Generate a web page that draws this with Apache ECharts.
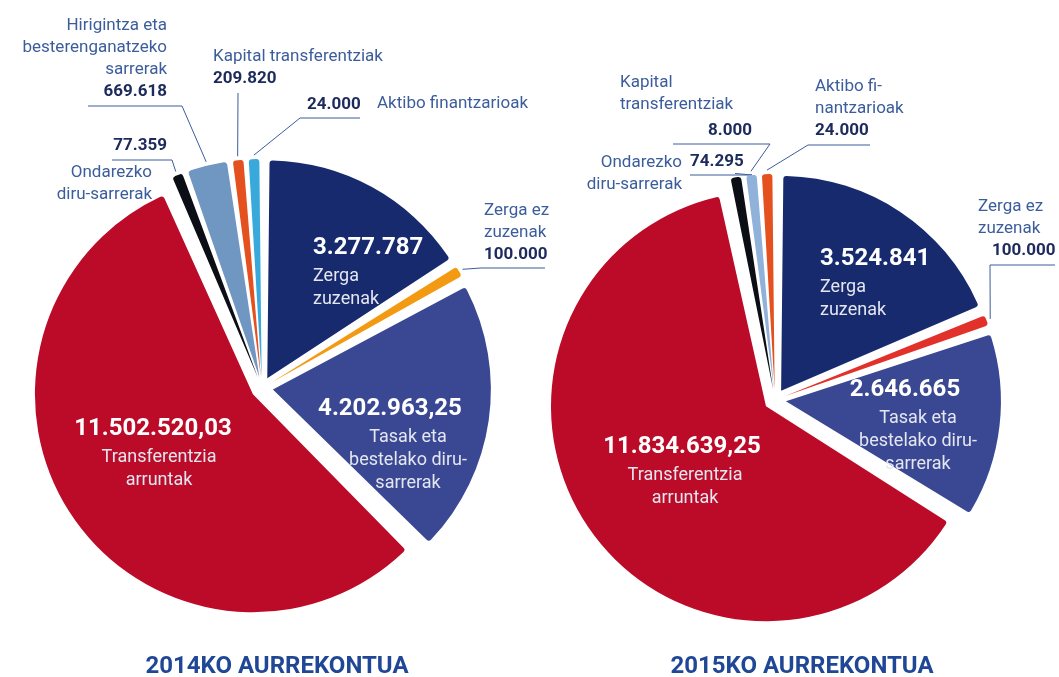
<!DOCTYPE html>
<html>
<head>
<meta charset="utf-8">
<script src="https://cdn.jsdelivr.net/npm/echarts@6/dist/echarts.min.js"></script>
<style>
html, body { margin: 0; padding: 0; background: #fff; }
#charts { width: 1059px; height: 677px; }
</style>
</head>
<body>
<div id="charts"></div>
<script>
// datuak: erlojuaren orratzen norantzan, goitik hasita
const categories2014 = ['Zerga zuzenak', 'Zerga ez zuzenak', 'Tasak eta bestelako diru-sarrerak', 'Transferentzia arruntak', 'Ondarezko diru-sarrerak', 'Hirigintza eta besterenganatzeko sarrerak', 'Kapital transferentziak', 'Aktibo finantzarioak']
const values2014 = [3277787, 100000, 4202963.25, 11502520.03, 77359, 669618, 209820, 24000]
const valueLabels2014 = ['3.277.787', '100.000', '4.202.963,25', '11.502.520,03', '77.359', '669.618', '209.820', '24.000']

const categories2015 = ['Zerga zuzenak', 'Zerga ez zuzenak', 'Tasak eta bestelako diru-sarrerak', 'Transferentzia arruntak', 'Ondarezko diru-sarrerak', 'Kapital transferentziak', 'Aktibo finantzarioak']
const values2015 = [3524841, 100000, 2646665, 11834639.25, 74295, 8000, 24000]
const valueLabels2015 = ['3.524.841', '100.000', '2.646.665', '11.834.639,25', '74.295', '8.000', '24.000']

const titles = ['2014KO AURREKONTUA', '2015KO AURREKONTUA']

// koloreak
const colors2014 = ['#172a6d', '#f39a12', '#3a4894', '#bb0b28', '#0b0e14', '#7096c2', '#e5501f', '#39a9dc']
const colors2015 = ['#172a6d', '#e2312b', '#3a4894', '#bb0b28', '#0b0e14', '#8fb1da', '#e5501f']

const NAME_COLOR = '#3c5d9b'
const VALUE_COLOR = '#1c2a5c'
const FONT = 'Roboto, "DejaVu Sans", sans-serif'

const OFFSET = 11
const pies = [
  { center: [262, 388], radius: 218 },
  { center: [775, 400], radius: 215 }
]

// etiketen kokapena (px); pad = izenen desplazamendua
const spots2014 = [
  { inside: true, x: 313, y: 231, align: 'left', text: ['Zerga', 'zuzenak'] },
  { x: 484, y: 266, align: 'left', text: ['Zerga ez', 'zuzenak'], bend: [481, 268], end: 545 },
  { inside: true, x: 390, y: 392, align: 'center', pad: 36, text: ['Tasak eta', 'bestelako diru-', 'sarrerak'] },
  { inside: true, x: 153, y: 412, align: 'center', pad: 12, text: ['Transferentzia', 'arruntak'] },
  { x: 167, y: 157, align: 'right', text: [], bend: [172, 160], end: 112 },
  { x: 167, y: 103, align: 'right', text: ['Hirigintza eta', 'besterenganatzeko', 'sarrerak'], bend: [182, 106], end: 88 },
  { x: 213, y: 90, align: 'left', text: ['Kapital transferentziak'], bend: [238, 93], end: 238 },
  { x: 307, y: 116, align: 'left', text: [], bend: [300, 118], end: 360 }
]
const spots2015 = [
  { inside: true, x: 820, y: 242, align: 'left', text: ['Zerga', 'zuzenak'] },
  { x: 978, y: 262, align: 'left', valPad: 14, text: ['Zerga ez', 'zuzenak'], bend: [990, 265], end: 1055 },
  { inside: true, x: 905, y: 373, align: 'center', pad: 26, text: ['Tasak eta', 'bestelako diru-', 'sarrerak'] },
  { inside: true, x: 682, y: 430, align: 'center', pad: 6, text: ['Transferentzia', 'arruntak'] },
  { x: 690, y: 173, align: 'left', text: [], bend: [752, 175], end: 690 },
  { x: 752, y: 142, align: 'right', text: [], bend: [770, 144], end: 673 },
  { x: 815, y: 142, align: 'left', text: ['Aktibo fi-', 'nantzarioak'], bend: [808, 145], end: 870 }
]

// etiketa osagarriak
const extraNames = [
  { text: 'Ondarezko\ndiru-sarrerak', x: 152, y: 162, align: 'right' },
  { text: 'Aktibo finantzarioak', x: 377, y: 93, align: 'left' },
  { text: 'Ondarezko\ndiru-sarrerak', x: 682, y: 152, align: 'right' },
  { text: 'Kapital\ntransferentziak', x: 620, y: 72, align: 'left' }
]

function richFor (s) {
  return {
    big: { fontSize: 24, fontWeight: 'bold', color: '#fff', lineHeight: 34, fontFamily: FONT },
    inName: { fontSize: 18, color: '#e4e6f0', lineHeight: 23, fontFamily: FONT, padding: [0, 0, 0, s.pad || 0] },
    val: { fontSize: 17, fontWeight: 'bold', color: VALUE_COLOR, lineHeight: 22, fontFamily: FONT, padding: [0, 0, 0, s.valPad || 0] },
    nm: { fontSize: 17, color: NAME_COLOR, lineHeight: 22, fontFamily: FONT }
  }
}

function pieBase (pie) {
  return {
    type: 'pie',
    center: pie.center,
    radius: pie.radius,
    startAngle: 90,
    clockwise: true,
    padAngle: 1.2,
    minAngle: 2.8,
    avoidLabelOverlap: false,
    animation: false
  }
}

// tartak (zatiak bereizita)
function sliceSeries (categories, values, colors, pie) {
  return Object.assign(pieBase(pie), {
    selectedMode: 'multiple',
    selectedOffset: OFFSET,
    itemStyle: { borderRadius: 3 },
    label: { show: false },
    labelLine: { show: false },
    emphasis: { disabled: true },
    data: categories.map((c, i) => ({ name: c, value: values[i], selected: true, itemStyle: { color: colors[i] } }))
  })
}

// etiketak: tarta garden bat gainean
function labelSeries (categories, values, valueLabels, spots, pie) {
  const center = pie.center
  return Object.assign(pieBase(pie), {
    silent: true,
    itemStyle: { color: 'rgba(0,0,0,0)' },
    emphasis: { disabled: true },
    labelLine: { show: true, lineStyle: { color: NAME_COLOR, width: 1 } },
    label: {
      formatter: (params) => {
        const s = spots[params.dataIndex]
        const lab = valueLabels[params.dataIndex]
        if (s.inside) {
          return ['{big|' + lab + '}'].concat(s.text.map(t => '{inName|' + t + '}')).join('\n')
        }
        return s.text.map(t => '{nm|' + t + '}').concat(['{val|' + lab + '}']).join('\n')
      }
    },
    labelLayout: (params) => {
      const s = spots[params.dataIndex]
      const out = { x: s.x, y: s.y, align: s.align, verticalAlign: s.inside ? 'top' : 'bottom' }
      if (!s.inside && params.labelLinePoints) {
        const p = params.labelLinePoints[0]
        const k = (pie.radius + OFFSET + 4) / pie.radius
        const p0 = [center[0] + (p[0] - center[0]) * k, center[1] + (p[1] - center[1]) * k]
        out.labelLinePoints = [p0, s.bend, [s.end, s.bend[1]]]
      }
      return out
    },
    data: categories.map((c, i) => ({
      name: c,
      value: values[i],
      label: { position: spots[i].inside ? 'inside' : 'outside', rich: richFor(spots[i]) },
      labelLine: { show: !spots[i].inside }
    }))
  })
}

const myChart = echarts.init(document.getElementById('charts'))
myChart.setOption({
  backgroundColor: '#fff',
  title: [
    { text: titles[0], left: 272, top: 650, textAlign: 'center', textStyle: { fontSize: 24, fontWeight: 'bold', color: '#1f4796', fontFamily: FONT } },
    { text: titles[1], left: 797, top: 650, textAlign: 'center', textStyle: { fontSize: 24, fontWeight: 'bold', color: '#1f4796', fontFamily: FONT } }
  ],
  graphic: extraNames.map(e => ({
    type: 'text',
    x: e.x,
    y: e.y,
    style: { text: e.text, textAlign: e.align, textVerticalAlign: 'top', fill: NAME_COLOR, font: '17px ' + FONT, lineHeight: 22 }
  })),
  series: [
    sliceSeries(categories2014, values2014, colors2014, pies[0]),
    sliceSeries(categories2015, values2015, colors2015, pies[1]),
    labelSeries(categories2014, values2014, valueLabels2014, spots2014, pies[0]),
    labelSeries(categories2015, values2015, valueLabels2015, spots2015, pies[1])
  ]
})
</script>
</body>
</html>
